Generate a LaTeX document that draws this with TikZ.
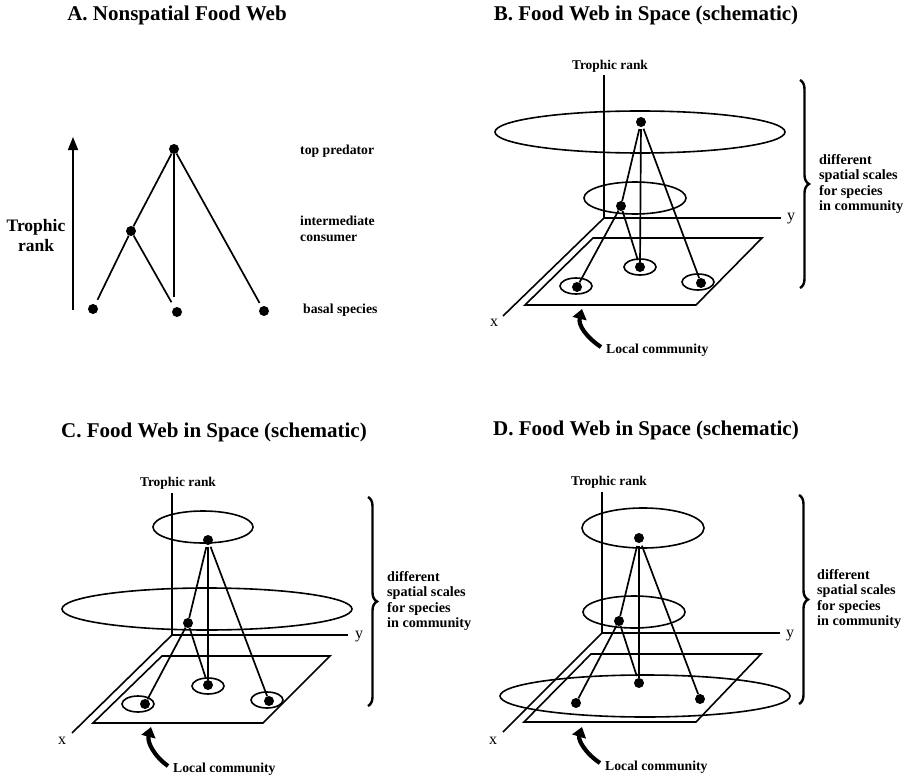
\documentclass[tikz,border=0pt]{standalone}
\usepackage{fontspec}
\setmainfont{Liberation Serif}
\usetikzlibrary{arrows.meta,decorations.pathreplacing}
\tikzset{
  dot/.style={circle,fill=black,inner sep=0pt,minimum size=10pt},
  edge/.style={line width=1.7pt,shorten >=3pt},
  axis/.style={line width=1.6pt},
  ring/.style={line width=1.6pt},
  title/.style={font=\fontsize{21}{24}\selectfont\bfseries,inner sep=0pt},
  lab/.style={font=\fontsize{13.7}{16}\selectfont\bfseries,inner sep=0pt,anchor=west},
  axlab/.style={font=\fontsize{13.4}{16}\selectfont\bfseries,inner sep=0pt},
  xylab/.style={font=\fontsize{16}{18}\selectfont,inner sep=0pt},
  scales/.style={font=\fontsize{14.2}{15.6}\selectfont\bfseries,inner sep=0pt,anchor=west,align=left},
  bigbrace/.style={decorate,decoration={brace,amplitude=9pt},line width=2.4pt},
  localarrow/.style={line width=4.2pt,-{Triangle[length=10pt,width=14pt]}},
}
\begin{document}
\begin{tikzpicture}[x=1pt,y=-1pt]
\useasboundingbox (0,0) rectangle (906,776);

% ---------------- Panel A ----------------
\node[title] (tA) at (177,15) {A. Nonspatial Food Web};
\coordinate (arB) at (73,310);
\coordinate (arT) at (73,137);
\draw[line width=1.7pt,-{Triangle[length=13pt,width=10pt]}] (arB) -- (arT);
\node[font=\fontsize{17.5}{20}\selectfont\bfseries,align=center,inner sep=0pt] (trA) at (36,236) {Trophic\\rank};
\node[dot] (aT) at (174,149) {};
\node[dot] (aI) at (131,231) {};
\node[dot] (aB1) at (93,309) {};
\node[dot] (aB2) at (177,312) {};
\node[dot] (aB3) at (264,311) {};
\draw[edge,shorten >=0pt] (aT) -- (aI);
\draw[edge,shorten >=5pt] (aI) -- (aB1);
\draw[edge,shorten >=6pt] (aI) -- (aB2);
\draw[edge,shorten >=10pt] (aT.south) -- (aT.south |- aB2.north);
\draw[edge,shorten >=4pt] (aT) -- (aB3);
\node[lab] (lTop) at (300,151) {top predator};
\node[lab,align=left] (lInt) at (300,229) {intermediate\\consumer};
\node[lab] (lBas) at (303,310) {basal species};

% ---------------- Panel B ----------------
\node[title] (tB) at (646,15) {B. Food Web in Space (schematic)};
\node[axlab] (trB) at (610,66) {Trophic rank};
\coordinate (bO) at (604,218);
\coordinate (bZ) at (604,75);
\coordinate (bY) at (781,218);
\coordinate (bX) at (503,316);
\draw[axis] (bZ) -- (bO) -- (bY);
\draw[axis] (bO) -- (bX);
\node[xylab] (bYl) at (791,219) {y};
\node[xylab] (bXl) at (494,323) {x};
\coordinate (bP1) at (593,238);
\coordinate (bP2) at (762,238);
\coordinate (bP3) at (696,305);
\coordinate (bP4) at (525,305);
\draw[axis] (bP1) -- (bP2) -- (bP3) -- (bP4) -- cycle;
\draw[ring] (640,132) ellipse (145 and 21);
\draw[ring] (635,198) ellipse (51 and 16);
\draw[ring] (576,286) ellipse (16 and 8);
\draw[ring] (640,267) ellipse (16 and 8);
\draw[ring] (698,282) ellipse (16 and 8);
\node[dot] (bT) at (641,122) {};
\node[dot] (bI) at (621,206) {};
\node[dot] (bB1) at (577,287) {};
\node[dot] (bB2) at (640,267) {};
\node[dot] (bB3) at (701,283) {};
\draw[edge,shorten <=2pt,shorten >=0pt] (bT) -- (bI);
\draw[edge,shorten >=0pt] (bI) -- (bB1);
\draw[edge,shorten >=2pt] (bI) -- (bB2);
\draw[edge,shorten <=2pt,shorten >=0pt] (bT) -- (bB2);
\draw[edge,shorten <=2pt,shorten >=0pt] (bT) -- (bB3);
\coordinate (bBr1) at (800,80);
\coordinate (bBr2) at (800,288);
\draw[bigbrace] (bBr1) -- (bBr2);
\node[scales] (bSc) at (819,184) {different\\spatial scales\\for species\\in community};
\coordinate (bAt) at (601,347);
\coordinate (bAh) at (582,309);
\draw[localarrow] (bAt) .. controls (586,337) and (578,325) .. (bAh);
\node[lab] (bLc) at (606,350) {Local community};

% ---------------- Panel C ----------------
\node[title] (tC) at (214,432) {C. Food Web in Space (schematic)};
\node[axlab] (trC) at (178,483) {Trophic rank};
\coordinate (cO) at (172,635);
\coordinate (cZ) at (172,493);
\coordinate (cY) at (348,635);
\coordinate (cX) at (72,733);
\draw[axis] (cZ) -- (cO) -- (cY);
\draw[axis] (cO) -- (cX);
\node[xylab] (cYl) at (359,637) {y};
\node[xylab] (cXl) at (62,741) {x};
\coordinate (cP1) at (162,656);
\coordinate (cP2) at (330,656);
\coordinate (cP3) at (263,723);
\coordinate (cP4) at (93,723);
\draw[axis] (cP1) -- (cP2) -- (cP3) -- (cP4) -- cycle;
\draw[ring] (203,527) ellipse (50 and 16);
\draw[ring] (207,609) ellipse (145 and 21);
\draw[ring] (138,704) ellipse (16 and 8);
\draw[ring] (208,686) ellipse (16 and 8);
\draw[ring] (267,700) ellipse (16 and 8);
\node[dot] (cT) at (208,540) {};
\node[dot] (cI) at (188,623) {};
\node[dot] (cB1) at (145,704) {};
\node[dot] (cB2) at (208,685) {};
\node[dot] (cB3) at (269,701) {};
\draw[edge,shorten <=2pt,shorten >=0pt] (cT) -- (cI);
\draw[edge,shorten >=0pt] (cI) -- (cB1);
\draw[edge,shorten >=2pt] (cI) -- (cB2);
\draw[edge,shorten <=2pt,shorten >=0pt] (cT) -- (cB2);
\draw[edge,shorten <=2pt,shorten >=0pt] (cT) -- (cB3);
\coordinate (cBr1) at (368,497);
\coordinate (cBr2) at (368,706);
\draw[bigbrace] (cBr1) -- (cBr2);
\node[scales] (cSc) at (387,601) {different\\spatial scales\\for species\\in community};
\coordinate (cAt) at (168,766);
\coordinate (cAh) at (151,727);
\draw[localarrow] (cAt) .. controls (154,756) and (147,742) .. (cAh);
\node[lab] (cLc) at (173,769) {Local community};

% ---------------- Panel D ----------------
\node[title] (tD) at (646,430) {D. Food Web in Space (schematic)};
\node[axlab] (trD) at (609,482) {Trophic rank};
\coordinate (dO) at (602,633);
\coordinate (dZ) at (602,492);
\coordinate (dY) at (780,633);
\coordinate (dX) at (503,732);
\draw[axis] (dZ) -- (dO) -- (dY);
\draw[axis] (dO) -- (dX);
\node[xylab] (dYl) at (790,636) {y};
\node[xylab] (dXl) at (493,741) {x};
\coordinate (dP1) at (591,654);
\coordinate (dP2) at (761,654);
\coordinate (dP3) at (696,722);
\coordinate (dP4) at (524,722);
\draw[axis] (dP1) -- (dP2) -- (dP3) -- (dP4) -- cycle;
\draw[ring] (643,528) ellipse (61 and 20);
\draw[ring] (634,612) ellipse (51 and 16);
\draw[ring] (645,696) ellipse (145 and 21);
\node[dot] (dT) at (639,538) {};
\node[dot] (dI) at (619,621) {};
\node[dot] (dB1) at (576,703) {};
\node[dot] (dB2) at (639,683) {};
\node[dot] (dB3) at (700,699) {};
\draw[edge,shorten <=3pt,shorten >=0pt] (dT) -- (dI);
\draw[edge,shorten >=0pt] (dI) -- (dB1);
\draw[edge,shorten >=2pt] (dI) -- (dB2);
\draw[edge,shorten <=3pt,shorten >=0pt] (dT) -- (dB2);
\draw[edge,shorten <=3pt,shorten >=0pt] (dT) -- (dB3);
\coordinate (dBr1) at (799,495);
\coordinate (dBr2) at (799,704);
\draw[bigbrace] (dBr1) -- (dBr2);
\node[scales] (dSc) at (817,599) {different\\spatial scales\\for species\\in community};
\coordinate (dAt) at (600,763);
\coordinate (dAh) at (582,727);
\draw[localarrow] (dAt) .. controls (585,753) and (578,740) .. (dAh);
\node[lab] (dLc) at (605,767) {Local community};
\end{tikzpicture}
\end{document}
